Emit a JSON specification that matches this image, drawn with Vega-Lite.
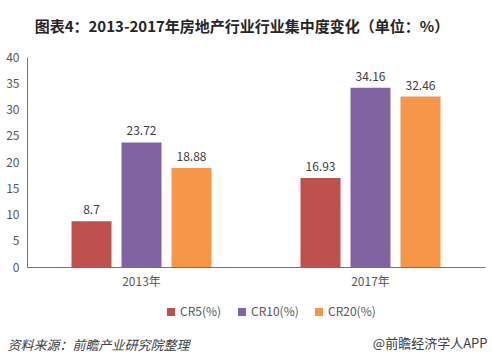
{
  "$schema": "https://vega.github.io/schema/vega-lite/v6.json",
  "width": 458,
  "height": 210,
  "autosize": {"type": "none"},
  "padding": {"left": 27, "top": 57, "right": 7, "bottom": 95},
  "background": "white",
  "config": {
    "font": "Noto Sans CJK SC",
    "view": {"stroke": null}
  },
  "title": {
    "text": "图表4：2013-2017年房地产行业行业集中度变化（单位：%）",
    "fontSize": 15,
    "fontWeight": "bold",
    "color": "#262626",
    "anchor": "middle",
    "frame": "group",
    "dx": -14,
    "offset": 16
  },
  "data": {
    "values": [
      {"year": "2013年", "series": "CR5(%)", "value": 8.7},
      {"year": "2013年", "series": "CR10(%)", "value": 23.72},
      {"year": "2013年", "series": "CR20(%)", "value": 18.88},
      {"year": "2017年", "series": "CR5(%)", "value": 16.93},
      {"year": "2017年", "series": "CR10(%)", "value": 34.16},
      {"year": "2017年", "series": "CR20(%)", "value": 32.46}
    ]
  },
  "encoding": {
    "x": {
      "field": "year",
      "type": "nominal",
      "scale": {"paddingInner": 0, "paddingOuter": 0},
      "axis": {
        "labelAngle": 0,
        "labelFontSize": 12,
        "labelColor": "#595959",
        "labelPadding": 9,
        "ticks": false,
        "domainColor": "#5b7a94",
        "title": "资料来源：前瞻产业研究院整理",
        "titleFontSize": 13,
        "titleFontStyle": "italic",
        "titleFontWeight": "normal",
        "titleColor": "#404040",
        "titleAnchor": "start",
        "titleAlign": "left",
        "titleX": -20,
        "titleY": 72
      }
    },
    "xOffset": {
      "field": "series",
      "type": "nominal",
      "sort": ["CR5(%)", "CR10(%)", "CR20(%)"],
      "scale": {"paddingInner": 0.2, "paddingOuter": 0.89}
    },
    "y": {
      "field": "value",
      "type": "quantitative",
      "scale": {"domain": [0, 40]},
      "axis": {
        "values": [0, 5, 10, 15, 20, 25, 30, 35, 40],
        "grid": false,
        "ticks": false,
        "labelFontSize": 12,
        "labelColor": "#595959",
        "labelPadding": 8,
        "domainColor": "#5b7a94",
        "title": "@前瞻经济学人APP",
        "titleAngle": 0,
        "titleAlign": "right",
        "titleBaseline": "middle",
        "titleFontSize": 13,
        "titleFontWeight": "normal",
        "titleColor": "#404040",
        "titleX": 460,
        "titleY": 286
      }
    }
  },
  "layer": [
    {
      "mark": {"type": "bar"},
      "encoding": {
        "color": {
          "field": "series",
          "type": "nominal",
          "sort": ["CR5(%)", "CR10(%)", "CR20(%)"],
          "scale": {
            "domain": ["CR5(%)", "CR10(%)", "CR20(%)"],
            "range": ["#C0504D", "#8064A2", "#F79646"]
          },
          "legend": {
            "title": null,
            "orient": "none",
            "direction": "horizontal",
            "legendX": 138,
            "legendY": 249,
            "symbolType": "square",
            "symbolSize": 64,
            "symbolStrokeWidth": 0,
            "labelFontSize": 12,
            "labelColor": "#595959",
            "columnPadding": 14,
            "labelOffset": 3
          }
        }
      }
    },
    {
      "mark": {"type": "text", "dy": -11, "fontSize": 12, "color": "#404040"},
      "encoding": {
        "text": {"field": "value", "type": "quantitative"}
      }
    }
  ]
}
